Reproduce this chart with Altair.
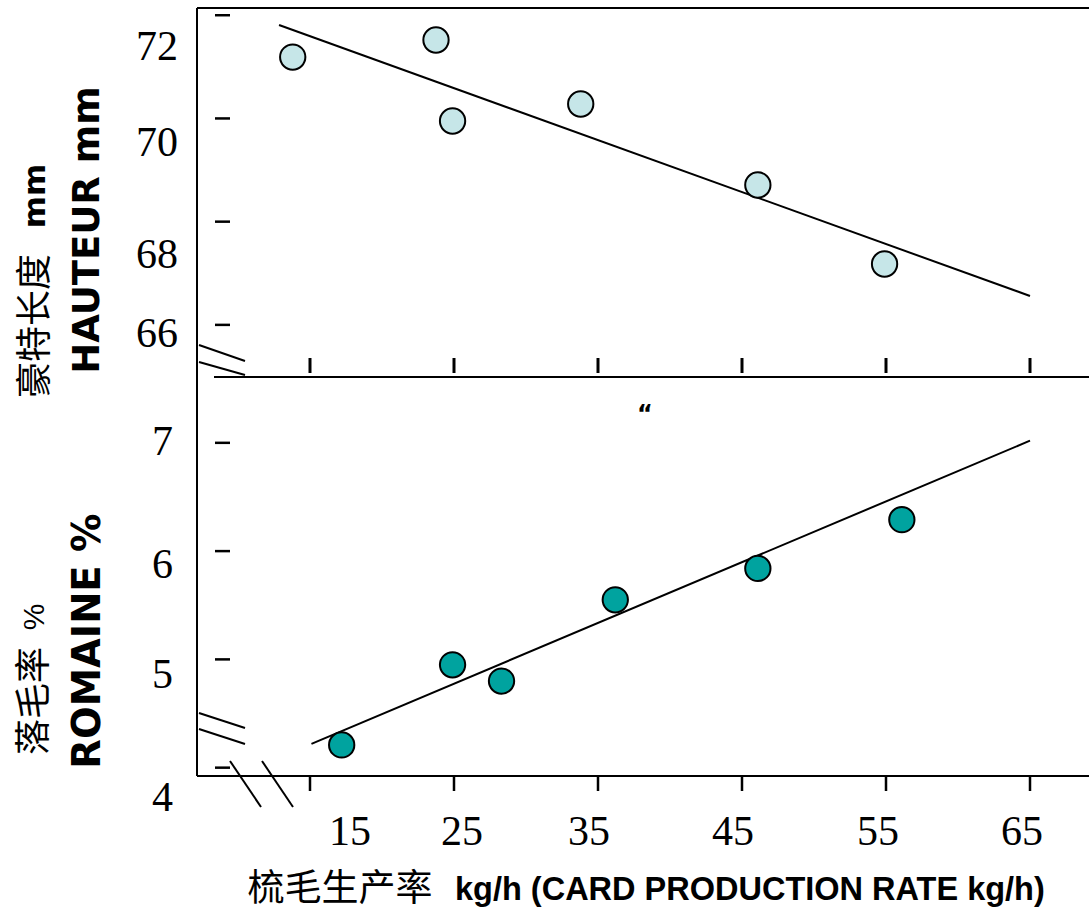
import altair as alt
import pandas as pd

# ---------------- data ----------------
x_ticks = [15, 25, 35, 45, 55, 65]
top_ticks = [66, 68, 70, 72]
bot_ticks = [4, 5, 6, 7]

top_rate = [13.8, 23.75, 24.9, 33.8, 46.1, 54.9]
top_height = [71.19, 71.52, 69.95, 70.28, 68.71, 67.18]
top_fit_rate = [12.85, 65.0]
top_fit_height = [71.81, 66.56]

bot_rate = [17.2, 24.9, 28.3, 36.2, 46.1, 56.1]
bot_noil = [4.21, 4.95, 4.80, 5.55, 5.84, 6.29]
bot_fit_rate = [15.1, 65.0]
bot_fit_noil = [4.22, 7.02]

top_title_fr = "HAUTEUR mm"
top_title_cn = "豪特长度"
top_title_unit = "mm"
bot_title_fr = "ROMAINE %"
bot_title_cn = "落毛率"
bot_title_unit = "%"
x_title_cn = "梳毛生产率"
x_title_en = "kg/h (CARD PRODUCTION RATE kg/h)"

# ---------------- layout / style ----------------
W = 892
H_TOP = 369
H_BOT = 399

# pixel nudges of the printed tick labels (style only)
top_label_dy = {72: 32, 70: 25, 68: 33, 66: 9}
bot_label_dy = {7: -1, 6: 14, 5: 16, 4: 30}
x_label_dx = {15: 40, 25: 8, 35: -9, 45: -9, 55: -8, 65: -8}

xs = alt.Scale(domain=[7.153, 69.097], nice=False, zero=False)
ys_top = alt.Scale(domain=[64.99, 72.14], nice=False, zero=False)
ys_bot = alt.Scale(domain=[3.923, 7.608], nice=False, zero=False)

one = alt.Data(values=[{"a": 1}])

serif = "Liberation Serif"
sans_b = "DejaVu Sans"
cjk = "Noto Sans CJK SC"


def rule(x1, y1, x2, y2, w=2, color="black"):
    return alt.Chart(one).mark_rule(color=color, strokeWidth=w).encode(
        x=alt.value(x1), y=alt.value(y1), x2=alt.value(x2), y2=alt.value(y2)
    )


def label(text, x, y, **kw):
    return alt.Chart(one).mark_text(text=text, color="black", **kw).encode(
        x=alt.value(x), y=alt.value(y)
    )


def y_labels(ticks, scale, dys, pad):
    out = []
    for t in ticks:
        out.append(
            alt.Chart(pd.DataFrame({"v": [t]})).mark_text(
                font=serif, fontSize=42, color="black", align="right",
                baseline="middle", dy=dys[t]
            ).encode(
                y=alt.Y("v:Q", scale=scale, axis=None),
                x=alt.value(-pad),
                text=alt.Text("v:Q"),
            )
        )
    return out


def x_labels(ticks, dxs, y):
    out = []
    for t in ticks:
        out.append(
            alt.Chart(pd.DataFrame({"v": [t]})).mark_text(
                font=serif, fontSize=42, color="black", align="center",
                baseline="middle", dx=dxs[t]
            ).encode(
                x=alt.X("v:Q", scale=xs, axis=None),
                y=alt.value(y),
                text=alt.Text("v:Q"),
            )
        )
    return out


# ---------------- top panel ----------------
df_top = pd.DataFrame({"rate": top_rate, "val": top_height})
df_top_fit = pd.DataFrame({"rate": top_fit_rate, "val": top_fit_height})

top_line = alt.Chart(df_top_fit).mark_line(color="black", strokeWidth=2).encode(
    x=alt.X("rate:Q", scale=xs, axis=None),
    y=alt.Y("val:Q", scale=ys_top, axis=None),
)
top_pts = alt.Chart(df_top).mark_circle(
    fill="#C6E6E8", stroke="black", strokeWidth=2, size=640, opacity=1
).encode(
    x=alt.X("rate:Q", scale=xs, axis=None),
    y=alt.Y("val:Q", scale=ys_top, axis=None),
)
top_yticks = alt.Chart(pd.DataFrame({"v": top_ticks})).mark_rule(
    color="black", strokeWidth=2.5).encode(
    y=alt.Y("v:Q", scale=ys_top, axis=None), x=alt.value(18), x2=alt.value(33))
top_xticks = alt.Chart(pd.DataFrame({"v": x_ticks})).mark_rule(
    color="black", strokeWidth=3).encode(
    x=alt.X("v:Q", scale=xs, axis=None), y=alt.value(H_TOP - 19), y2=alt.value(H_TOP - 4))

top = alt.layer(
    top_line,
    top_pts,
    top_yticks,
    top_xticks,
    rule(-196.5, -7.5, -196.5, -7.4, w=1, color="white"),  # layout anchor
    rule(0, 0, W, 0),
    rule(0, 0, 0, H_TOP),
    rule(17, H_TOP, W, H_TOP),
    rule(2, 337, 48, 353),
    rule(2, 354, 48, 367),
    *y_labels(top_ticks, ys_top, top_label_dy, 19),
    label(top_title_fr, -109, 222, angle=270, font=sans_b, fontWeight="bold",
          fontSize=37, align="center", baseline="middle"),
    label(top_title_cn, -161, 318, angle=270, font=cjk, fontSize=36,
          align="center", baseline="middle"),
    label(top_title_unit, -161, 188, angle=270, font=sans_b, fontWeight="bold",
          fontSize=31, align="center", baseline="middle"),
).properties(width=W, height=H_TOP)

# ---------------- bottom panel ----------------
df_bot = pd.DataFrame({"rate": bot_rate, "val": bot_noil})
df_bot_fit = pd.DataFrame({"rate": bot_fit_rate, "val": bot_fit_noil})

bot_line = alt.Chart(df_bot_fit).mark_line(color="black", strokeWidth=2).encode(
    x=alt.X("rate:Q", scale=xs, axis=None),
    y=alt.Y("val:Q", scale=ys_bot, axis=None),
)
bot_pts = alt.Chart(df_bot).mark_circle(
    fill="#00A39F", stroke="black", strokeWidth=2, size=640, opacity=1
).encode(
    x=alt.X("rate:Q", scale=xs, axis=None),
    y=alt.Y("val:Q", scale=ys_bot, axis=None),
)
bot_yticks = alt.Chart(pd.DataFrame({"v": bot_ticks})).mark_rule(
    color="black", strokeWidth=2.5).encode(
    y=alt.Y("v:Q", scale=ys_bot, axis=None), x=alt.value(18), x2=alt.value(33))
bot_xticks = alt.Chart(pd.DataFrame({"v": x_ticks})).mark_rule(
    color="black", strokeWidth=2.5).encode(
    x=alt.X("v:Q", scale=xs, axis=None), y=alt.value(H_BOT), y2=alt.value(H_BOT + 15))

bot = alt.layer(
    bot_line,
    bot_pts,
    bot_yticks,
    bot_xticks,
    rule(-196.5, 10, -196.5, 10.1, w=1, color="white"),  # layout anchor
    rule(-196.5, 533, -196.5, 533.5, w=1, color="white"),  # layout anchor (bottom)
    rule(0, 0, 0, H_BOT),
    rule(0, H_BOT, W, H_BOT),
    rule(2, 336, 48, 351),
    rule(2, 352, 48, 367),
    rule(33, 384, 64, 430),
    rule(65, 384, 96, 430),
    *y_labels(bot_ticks, ys_bot, bot_label_dy, 24),
    *x_labels(x_ticks, x_label_dx, H_BOT + 56),
    label("\u201c", 448, 38, font=sans_b, fontWeight="bold", fontSize=24,
          align="center", baseline="middle"),
    label(bot_title_fr, -109, 264, angle=270, font=sans_b, fontWeight="bold",
          fontSize=38.5, align="center", baseline="middle"),
    label(bot_title_cn, -162, 324, angle=270, font=cjk, fontSize=36,
          align="center", baseline="middle"),
    label(bot_title_unit, -162, 240, angle=270, font="Liberation Sans",
          fontSize=30, align="center", baseline="middle"),
    label(x_title_cn, 143, 513, font=cjk, fontSize=37,
          align="center", baseline="middle"),
    label(x_title_en, 258, 513, font="Liberation Sans", fontWeight="bold",
          fontSize=32.5, align="left", baseline="middle"),
).properties(width=W, height=H_BOT)

chart = alt.vconcat(top, bot, spacing=0, bounds="flush").properties(
    padding=0, background="white"
).configure_view(stroke=None)

chart.save("out.html", embed_options={"renderer": "svg", "actions": False})
